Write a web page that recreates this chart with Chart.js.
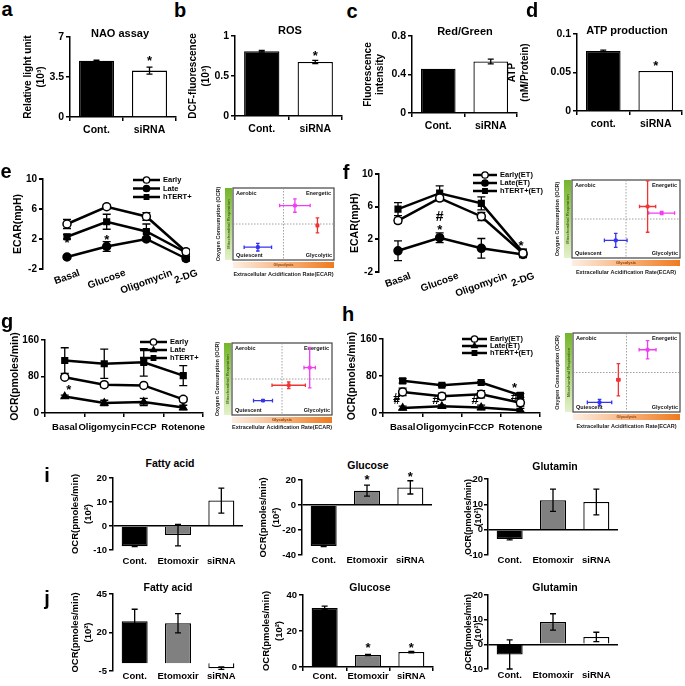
<!DOCTYPE html>
<html>
<head>
<meta charset="utf-8">
<script src="https://cdn.jsdelivr.net/npm/chart.js@4.4.0/dist/chart.umd.min.js"></script>
<style>
body { margin: 0; background: #fff; width: 685px; height: 686px; position: relative; overflow: hidden; font-family: "Liberation Sans", Arial, sans-serif; }
canvas { position: absolute; }
.t { position: absolute; white-space: nowrap; color: #000; font-weight: bold; line-height: 1.15; transform: translate(-50%, -50%); }
</style>
</head>
<body>
<script>
// ---- data ----
var twoLabels = ['Cont.', 'siRNA'];
var atpLabels = ['cont.', 'siRNA'];
var naoVal = [4.93, 4.06], naoErr = [0.05, 0.3];
var rosVal = [0.81, 0.675], rosErr = [0.01, 0.02];
var rgVal = [0.46, 0.535], rgErr = [0, 0.025];
var atpVal = [0.078, 0.052], atpErr = [0.001, 0];

var ecarSteps = ['Basal', 'Glucose', 'Oligomycin', '2-DG'];
var eEarly = [4.0, 6.3, 5.0, 0.3], eEarlyErr = [0.6, 0.3, 0.5, 0.3];
var eLate = [-0.4, 1.0, 2.0, -0.6], eLateErr = [0.2, 0.65, 0.25, 0.3];
var eHtert = [2.3, 4.3, 3.0, 0.2], eHtertErr = [0.3, 1.0, 1.0, 0.2];
var fEarly = [4.3, 7.05, 4.8, 0.3], fEarlyErr = [0.3, 0.3, 0.5, 0.3];
var fLate = [0.6, 2.2, 0.9, 0.15], fLateErr = [1.2, 0.6, 1.2, 0.4];
var fHtert = [5.7, 7.65, 6.4, 0.4], fHtertErr = [0.8, 0.9, 0.8, 0.4];

var ocrSteps = ['Basal', 'Oligomycin', 'FCCP', 'Rotenone'];
var gEarly = [78.5, 62, 60.5, 30], gEarlyErr = [3, 5, 2, 5];
var gLate = [36, 22, 24, 12], gLateErr = [3, 6, 8, 5];
var gHtert = [115, 108, 111, 82], gHtertErr = [28, 32, 30, 22];
var hEarly = [45.6, 36, 40.5, 22], hEarlyErr = [8, 7, 8, 7];
var hLate = [11, 14.5, 12, 6], hLateErr = [4, 3, 5, 4];
var hHtert = [69.5, 60, 66, 38], hHtertErr = [5, 3, 2, 4];

// quadrant insets: magenta, red, blue
var eQx = [0.613, 0.836, 0.246], eQy = [0.756, 0.48, 0.178], eQxe = [0.151, 0.01, 0.136], eQye = [0.093, 0.104, 0.053];
var fQx = [0.83, 0.70, 0.405], fQy = [0.576, 0.66, 0.226], fQxe = [0.12, 0.075, 0.105], fQye = [0.02, 0.33, 0.09];
var gQx = [0.777, 0.567, 0.31], gQy = [0.658, 0.413, 0.2], gQxe = [0.057, 0.167, 0.095], gQye = [0.28, 0.045, 0.01];
var hQx = [0.697, 0.424, 0.248], hQy = [0.788, 0.408, 0.122], hQxe = [0.079, 0.015, 0.114], hQye = [0.116, 0.204, 0.037];

var treatLabels = ['Cont.', 'Etomoxir', 'siRNA'];
var iFatty = [-8.4, -3.8, 10.6], iFattyErr = [0.2, 4.5, 5.2];
var iGluc = [-32.8, 11.5, 14.1], iGlucErr = [0.4, 4.4, 5.3];
var iGlut = [-3.7, 11.6, 10.9], iGlutErr = [0.3, 4.4, 5.1];
var jFatty = [27.3, 26, -3.2], jFattyErr = [7.8, 6.2, 0.8];
var jGluc = [32.8, 6.7, 8.3], jGlucErr = [1, 0.3, 0.4];
var jGlut = [-4.1, 9.1, 3.0], jGlutErr = [5.9, 3.3, 1.9];

// ---- setup ----
var ff = '"Liberation Sans", Arial, sans-serif';
Chart.defaults.font.family = ff;
Chart.defaults.font.weight = 'bold';
Chart.defaults.color = '#000';
Chart.defaults.plugins.legend.display = false;
Chart.defaults.plugins.tooltip.enabled = false;

var quadColors = ['#f23cf2', '#f03434', '#3434f0'];
var mctx = document.createElement('canvas').getContext('2d');
function textW(t, size) { mctx.font = 'bold ' + size + 'px ' + ff; return mctx.measureText(t).width; }

function txt(s, x, y, size) {
    var d = document.createElement('div');
    d.className = 't';
    d.textContent = s;
    d.style.left = x + 'px';
    d.style.top = y + 'px';
    d.style.fontSize = size + 'px';
    document.body.appendChild(d);
}

function markPt(ctx, style, x, y, r) {
    ctx.beginPath();
    if (style === 'rect') {
        var s = r * Math.SQRT1_2;
        ctx.rect(x - s, y - s, 2 * s, 2 * s);
    } else if (style === 'triangle') {
        ctx.moveTo(x, y - r);
        ctx.lineTo(x + r * 0.866, y + r * 0.5);
        ctx.lineTo(x - r * 0.866, y + r * 0.5);
        ctx.closePath();
    } else {
        ctx.arc(x, y, r, 0, Math.PI * 2);
    }
    ctx.fill();
    ctx.stroke();
}

function drawErr(chart) {
    var ctx = chart.ctx, ys = chart.scales.y, xs = chart.scales.x;
    chart.data.datasets.forEach(function (ds, i) {
        if (!ds.errors) return;
        var meta = chart.getDatasetMeta(i);
        var cap = ds.capW || 3;
        ctx.save();
        ctx.strokeStyle = ds.errColor || '#000';
        ctx.lineWidth = ds.errWidth || 1.3;
        ctx.beginPath();
        meta.data.forEach(function (el, j) {
            var raw = ds.data[j];
            var v = typeof raw === 'object' ? raw.y : raw;
            var e = ds.errors[j];
            if (e) {
                var t = ys.getPixelForValue(v + e), b = ys.getPixelForValue(v - e);
                ctx.moveTo(el.x, t); ctx.lineTo(el.x, b);
                ctx.moveTo(el.x - cap, t); ctx.lineTo(el.x + cap, t);
                ctx.moveTo(el.x - cap, b); ctx.lineTo(el.x + cap, b);
            }
            if (ds.xErr && ds.xErr[j]) {
                var l = xs.getPixelForValue(raw.x - ds.xErr[j]), r = xs.getPixelForValue(raw.x + ds.xErr[j]);
                ctx.moveTo(l, el.y); ctx.lineTo(r, el.y);
                ctx.moveTo(l, el.y - cap); ctx.lineTo(l, el.y + cap);
                ctx.moveTo(r, el.y - cap); ctx.lineTo(r, el.y + cap);
            }
        });
        ctx.stroke();
        ctx.restore();
    });
}

Chart.register({
    id: 'errBars',
    beforeDatasetsDraw: function (chart) { if (chart.config.type === 'line') drawErr(chart); },
    afterDatasetsDraw: function (chart) { if (chart.config.type !== 'line') drawErr(chart); }
});

// stars and hashes
Chart.register({
    id: 'marks',
    afterDraw: function (chart, args, opts) {
        if (!opts.items) return;
        var ctx = chart.ctx;
        opts.items.forEach(function (m) {
            var s = m.s || 13;
            ctx.save();
            ctx.font = 'bold ' + s + 'px ' + ff;
            ctx.fillStyle = '#000';
            ctx.textAlign = 'center';
            ctx.textBaseline = 'middle';
            var dy = m.t === '*' ? s * 0.25 : 0;
            ctx.fillText(m.t, chart.scales.x.getPixelForValue(m.x), chart.scales.y.getPixelForValue(m.y) + dy);
            ctx.restore();
        });
    }
});

// legend drawn as line + marker + text, page coords
Chart.register({
    id: 'lineLegend',
    afterDraw: function (chart, args, opts) {
        if (!opts.x) return;
        var ctx = chart.ctx, ox = chart.canvas.offsetLeft, oy = chart.canvas.offsetTop;
        chart.data.datasets.forEach(function (ds, i) {
            var y = opts.y + i * opts.gap - oy, x = opts.x - ox;
            ctx.save();
            ctx.strokeStyle = '#000';
            ctx.lineWidth = 2.5;
            ctx.beginPath(); ctx.moveTo(x, y); ctx.lineTo(x + opts.len, y); ctx.stroke();
            ctx.lineWidth = 1.3;
            ctx.fillStyle = ds.pointBackgroundColor;
            markPt(ctx, ds.pointStyle, x + opts.len / 2, y, 3.2);
            ctx.fillStyle = '#000';
            ctx.font = 'bold ' + opts.size + 'px ' + ff;
            ctx.textBaseline = 'middle';
            ctx.fillText(ds.label, x + opts.len + 3, y);
            ctx.restore();
        });
    }
});

// metabolic phenotype quadrant box
Chart.register({
    id: 'quad',
    beforeDatasetsDraw: function (chart, args, opts) {
        if (!opts.on) return;
        var ctx = chart.ctx, a = chart.chartArea, xs = chart.scales.x, ys = chart.scales.y;
        var w = a.right - a.left, h = a.bottom - a.top;
        ctx.save();
        var gg = ctx.createLinearGradient(0, a.bottom, 0, a.top);
        gg.addColorStop(0, '#e4f1c9');
        gg.addColorStop(1, '#74b52a');
        ctx.fillStyle = gg;
        ctx.fillRect(a.left - 8, a.top, 7, h);
        var og = ctx.createLinearGradient(a.left, 0, a.right, 0);
        og.addColorStop(0, '#fdeee2');
        og.addColorStop(1, '#f07a1e');
        ctx.fillStyle = og;
        ctx.fillRect(a.left, a.bottom + 2, w, 6);
        ctx.font = 'bold 4px ' + ff;
        ctx.textAlign = 'center';
        ctx.textBaseline = 'middle';
        ctx.fillStyle = '#8a3d00';
        ctx.fillText('Glycolysis', a.left + w / 2, a.bottom + 5);
        ctx.save();
        ctx.translate(a.left - 4.5, a.top + h / 2);
        ctx.rotate(-Math.PI / 2);
        ctx.fillStyle = '#3b6a12';
        ctx.fillText('Mitochondrial Respiration', 0, 0);
        ctx.restore();
        ctx.strokeStyle = '#444';
        ctx.lineWidth = 1.2;
        ctx.strokeRect(a.left, a.top, w, h);
        ctx.setLineDash([1.5, 1.5]);
        ctx.strokeStyle = '#888';
        ctx.lineWidth = 0.8;
        ctx.beginPath();
        ctx.moveTo(xs.getPixelForValue(0.5), a.top); ctx.lineTo(xs.getPixelForValue(0.5), a.bottom);
        ctx.moveTo(a.left, ys.getPixelForValue(0.5)); ctx.lineTo(a.right, ys.getPixelForValue(0.5));
        ctx.stroke();
        ctx.setLineDash([]);
        ctx.fillStyle = '#111';
        ctx.font = 'bold 5.5px ' + ff;
        ctx.textAlign = 'left';
        ctx.fillText('Aerobic', a.left + 3, a.top + 5);
        ctx.fillText('Quiescent', a.left + 3, a.bottom - 5);
        ctx.textAlign = 'right';
        ctx.fillText('Energetic', a.right - 3, a.top + 5);
        ctx.fillText('Glycolytic', a.right - 2, a.bottom - 5);
        ctx.restore();
    }
});

function place(geo) {
    var c = document.createElement('canvas');
    var W = geo.yw + geo.w + geo.pr, H = geo.pt + geo.h + geo.xh;
    c.width = W; c.height = H;
    c.style.left = (geo.x - geo.yw) + 'px';
    c.style.top = (geo.y - geo.pt) + 'px';
    c.style.width = W + 'px';
    c.style.height = H + 'px';
    document.body.appendChild(c);
    return c;
}

// fix plot area to the given geometry
function build(geo, cfg) {
    cfg.options.responsive = false;
    cfg.options.animation = false;
    cfg.options.devicePixelRatio = 1;
    cfg.options.layout = {padding: {top: geo.pt, right: geo.pr, left: 0, bottom: 0}};
    cfg.options.scales.x.afterFit = function (s) { s.height = geo.xh; s.paddingLeft = 0; s.paddingRight = 0; };
    cfg.options.scales.y.afterFit = function (s) { s.width = geo.yw; s.paddingTop = 0; s.paddingBottom = 0; };
    return new Chart(place(geo), cfg);
}

function zeroColor(c) { return c.tick && c.tick.value === 0 ? '#000' : 'rgba(0,0,0,0)'; }
function numLabel(v) { return String(+v.toFixed(4)); }

function yAxis(min, max, step, title, o) {
    return {
        min: min, max: max,
        ticks: {stepSize: step, font: {size: o.fs}, padding: o.tp || 2, color: '#000', callback: numLabel},
        grid: {drawOnChartArea: !!o.zero, color: o.zero ? zeroColor : '#000', tickColor: '#000', tickLength: 4, lineWidth: o.zero ? (o.zw || 1.5) : 1.5},
        border: {color: '#000', width: 1.5},
        title: {display: true, text: title, font: {size: o.tfs, lineHeight: o.lh}, padding: 0, color: '#000'}
    };
}

function xCat(o) {
    if (o.zero) {
        return {offset: true, grid: {display: false, drawTicks: false}, border: {display: false},
            ticks: {font: {size: o.fs}, padding: o.pad, color: '#000', autoSkip: false, maxRotation: 0}};
    }
    return {offset: true,
        grid: {display: true, drawOnChartArea: false, drawTicks: true, tickLength: 4, color: '#000', lineWidth: 1.5, offset: true},
        border: {color: '#000', width: 1.5},
        ticks: {font: {size: o.fs}, padding: o.pad, color: '#000', autoSkip: false, maxRotation: 0}};
}

function barChart(geo, labels, vals, errs, colors, yr, title, o) {
    return build(geo, {
        type: 'bar',
        data: {labels: labels, datasets: [{data: vals, errors: errs, backgroundColor: colors, borderColor: '#000',
            borderWidth: 1.3, barPercentage: o.bar, categoryPercentage: 1, capW: 3}]},
        options: {
            plugins: {marks: {items: o.marks || []}},
            scales: {x: xCat(o), y: yAxis(yr[0], yr[1], yr[2], title, o)}
        }
    });
}

function lineDs(label, vals, errs, style, fill, asXY) {
    return {
        label: label,
        data: asXY ? vals.map(function (v, i) { return {x: i, y: v}; }) : vals,
        errors: errs, capW: 4,
        borderColor: '#000', borderWidth: 2.5,
        pointStyle: style, pointRadius: 4, pointBackgroundColor: fill,
        pointBorderColor: '#000', pointBorderWidth: 1.5, tension: 0
    };
}

// ECAR line chart with rotated labels roughly centred under each step
function ecarChart(geo, xr, datasets, legend, marks) {
    var unit = geo.w / (xr[1] - xr[0]);
    var cosr = Math.cos(20 * Math.PI / 180);
    return build(geo, {
        type: 'line',
        data: {datasets: datasets},
        options: {
            plugins: {marks: {items: marks}, lineLegend: legend},
            scales: {
                x: {type: 'linear', min: xr[0], max: xr[1],
                    afterBuildTicks: function (s) {
                        s.ticks = ecarSteps.map(function (t, i) { return {value: i + textW(t, 10) * 0.5 * cosr / unit}; });
                    },
                    ticks: {callback: function (v, i) { return ecarSteps[i]; }, minRotation: 20, maxRotation: 20, autoSkip: false, padding: -2, font: {size: 10}},
                    grid: {display: false, drawTicks: false}, border: {display: false}},
                y: yAxis(-2, 10, 4, 'ECAR(mpH)', {fs: 10, tfs: 10.5, lh: 1.2, zero: true, zw: 2})
            }
        }
    });
}

function ocrChart(geo, datasets, legend, marks) {
    return build(geo, {
        type: 'line',
        data: {labels: ocrSteps, datasets: datasets},
        options: {
            plugins: {marks: {items: marks}, lineLegend: legend},
            scales: {
                x: xCat({fs: 9.5, pad: 5}),
                y: yAxis(0, 160, 80, 'OCR(pmoles/min)', {fs: 10, tfs: 10.5, lh: 1.2})
            }
        }
    });
}

function quadChart(geo, qx, qy, qxe, qye) {
    var ds = qx.map(function (x, i) {
        return {data: [{x: x, y: qy[i]}], errors: [qye[i]], xErr: [qxe[i]], errColor: quadColors[i], errWidth: 1.3, capW: 1.8,
            pointStyle: 'rect', pointRadius: 2, backgroundColor: quadColors[i], borderColor: quadColors[i]};
    });
    var ax = function (t) {
        return {min: 0, max: 1, ticks: {display: false}, grid: {display: false, drawTicks: false}, border: {display: false},
            title: {display: true, text: t, font: {size: 5.5, lineHeight: 1.2}, padding: 0, color: '#222'}};
    };
    return build(geo, {
        type: 'scatter',
        data: {datasets: ds},
        options: {plugins: {quad: {on: true}}, scales: {x: ax('Extracellular Acidification Rate(ECAR)'), y: ax('Oxygen Consumption (OCR)')}}
    });
}

// ---- panels a-d ----
var bw = ['#000', '#fff'];
var abc = {fs: 10.5, tfs: 10, lh: 1.35, pad: 3, bar: 0.66};
barChart({x: 70, y: 37, w: 106, h: 80, yw: 49, xh: 24, pr: 6, pt: 8}, twoLabels, naoVal, naoErr, bw, [0, 7, 3.5],
    ['Relative light unit', '(10³)'], Object.assign({marks: [{x: 1, y: 5.15, t: '*'}]}, abc));
barChart({x: 235, y: 36, w: 107, h: 80, yw: 49, xh: 24, pr: 4, pt: 8}, twoLabels, rosVal, rosErr, bw, [0, 1, 0.5],
    ['DCF-fluorescence', '(10³)'], Object.assign({marks: [{x: 1, y: 0.79, t: '*'}]}, abc));
barChart({x: 412, y: 36, w: 105, h: 77, yw: 50, xh: 24, pr: 4, pt: 8}, twoLabels, rgVal, rgErr, bw, [0, 0.8, 0.4],
    ['Fluorescence', 'intensity'], Object.assign({}, abc, {lh: 1.2}));
barChart({x: 577, y: 34, w: 105, h: 77, yw: 71, xh: 24, pr: 3, pt: 8}, atpLabels, atpVal, atpErr, bw, [0, 0.1, 0.05],
    ['ATP', '(nM/Protein)'], Object.assign({marks: [{x: 1, y: 0.062, t: '*'}]}, abc, {lh: 1.3}));

// ---- panels e-h ----
ecarChart({x: 43, y: 179, w: 147, h: 90, yw: 31, xh: 32, pr: 14, pt: 8}, [-0.605, 3.1], [
    lineDs('Early', eEarly, eEarlyErr, 'circle', '#fff', true),
    lineDs('Late', eLate, eLateErr, 'circle', '#000', true),
    lineDs('hTERT+', eHtert, eHtertErr, 'rect', '#000', true)
], {x: 133, y: 180, gap: 8.5, len: 27, size: 7.5}, [{x: 0, y: 1.9, t: '*'}, {x: 1, y: 2.3, t: '*'}]);

ecarChart({x: 379, y: 174, w: 164, h: 98, yw: 30, xh: 30, pr: 6, pt: 8}, [-0.456, 3.48], [
    lineDs('Early(ET)', fEarly, fEarlyErr, 'circle', '#fff', true),
    lineDs('Late(ET)', fLate, fLateErr, 'circle', '#000', true),
    lineDs('hTERT+(ET)', fHtert, fHtertErr, 'rect', '#000', true)
], {x: 473, y: 175, gap: 8, len: 24, size: 7.5},
    [{x: 1, y: 4.75, t: '#', s: 14}, {x: 1, y: 3.5, t: '*'}, {x: 2.95, y: 1.5, t: '*'}]);

ocrChart({x: 45, y: 340, w: 158, h: 73, yw: 36, xh: 24, pr: 8, pt: 8}, [
    lineDs('Early', gEarly, gEarlyErr, 'circle', '#fff'),
    lineDs('Late', gLate, gLateErr, 'triangle', '#000'),
    lineDs('hTERT+', gHtert, gHtertErr, 'rect', '#000')
], {x: 140, y: 342, gap: 8, len: 27, size: 7.5}, [{x: 0.1, y: 56, t: '*'}]);

ocrChart({x: 383, y: 339, w: 157, h: 74, yw: 37, xh: 24, pr: 8, pt: 8}, [
    lineDs('Early(ET)', hEarly, hEarlyErr, 'circle', '#fff'),
    lineDs('Late(ET)', hLate, hLateErr, 'triangle', '#000'),
    lineDs('hTERT+(ET)', hHtert, hHtertErr, 'rect', '#000')
], {x: 462, y: 339, gap: 7, len: 25, size: 7.5}, [
    {x: -0.15, y: 32, t: '#', s: 13}, {x: -0.15, y: 26, t: '#', s: 11},
    {x: 0.85, y: 27, t: '#', s: 13}, {x: 1.85, y: 28, t: '#', s: 13},
    {x: 2.85, y: 33, t: '#', s: 13}, {x: 2.85, y: 60, t: '*'}
]);

quadChart({x: 233, y: 185, w: 102, h: 75, yw: 18, xh: 18, pr: 4, pt: 2}, eQx, eQy, eQxe, eQye);
quadChart({x: 572, y: 177, w: 111, h: 81, yw: 18, xh: 18, pr: 2, pt: 2}, fQx, fQy, fQxe, fQye);
quadChart({x: 232, y: 340, w: 101, h: 75, yw: 18, xh: 16, pr: 4, pt: 2}, gQx, gQy, gQxe, gQye);
quadChart({x: 573, y: 330, w: 110, h: 82, yw: 19, xh: 18, pr: 2, pt: 2}, hQx, hQy, hQxe, hQye);

// ---- panels i, j ----
var tri = ['#000', '#808080', '#fff'];
var ocrTitle = ['OCR(pmoles/min)', '(10²)'];
function ij(extra) { return Object.assign({fs: 9.5, tfs: 9.5, lh: 1.35, bar: 0.6, pad: 0}, extra); }
barChart({x: 113, y: 478, w: 130, h: 72, yw: 44, xh: 20, pr: 4, pt: 8}, treatLabels, iFatty, iFattyErr, tri, [-10, 20, 10], ocrTitle, ij({zero: true, pad: 6}));
barChart({x: 302, y: 480, w: 130, h: 75, yw: 45, xh: 15, pr: 4, pt: 8}, treatLabels, iGluc, iGlucErr, tri, [-40, 20, 20], ocrTitle,
    ij({zero: true, marks: [{x: 1, y: 22, t: '*'}, {x: 2, y: 24.5, t: '*'}]}));
barChart({x: 488, y: 479, w: 130, h: 76, yw: 25, xh: 15, pr: 6, pt: 8}, treatLabels, iGlut, iGlutErr, tri, [-10, 20, 10], ocrTitle,
    ij({zero: true, tfs: 9, lh: 1.15, tp: 1}));
barChart({x: 113, y: 594, w: 130, h: 77, yw: 44, xh: 15, pr: 4, pt: 8}, treatLabels, jFatty, jFattyErr, tri, [-5, 45, 25], ocrTitle, ij({zero: true}));
barChart({x: 303, y: 595, w: 130, h: 72, yw: 43, xh: 19, pr: 4, pt: 8}, treatLabels, jGluc, jGlucErr, tri, [0, 40, 20], ocrTitle,
    ij({marks: [{x: 1, y: 12.2, t: '*'}, {x: 2, y: 12.2, t: '*'}]}));
barChart({x: 488, y: 595, w: 130, h: 74, yw: 25, xh: 17, pr: 6, pt: 8}, treatLabels, jGlut, jGlutErr, tri, [-10, 20, 10], ocrTitle,
    ij({zero: true, pad: 1, tfs: 9, lh: 1.15, tp: 1}));

// ---- titles and panel letters ----
txt('NAO assay', 120, 33, 11);
txt('ROS', 290, 30, 11);
txt('Red/Green', 465, 31, 11);
txt('ATP production', 627, 30, 11);
txt('Fatty acid', 170, 463, 10.5);
txt('Glucose', 368, 465, 10.5);
txt('Glutamin', 555, 466, 10.5);
txt('Fatty acid', 168, 587, 10.5);
txt('Glucose', 370, 587, 10.5);
txt('Glutamin', 555, 587, 10.5);
var letters = [['a', 7, 9], ['b', 180, 10], ['c', 352, 11], ['d', 532, 10], ['e', 6, 171], ['f', 346, 172],
    ['g', 7, 321], ['h', 348, 314], ['i', 47, 475], ['j', 47, 598]];
letters.forEach(function (l) { txt(l[0], l[1], l[2], 20); });
</script>
</body>
</html>
